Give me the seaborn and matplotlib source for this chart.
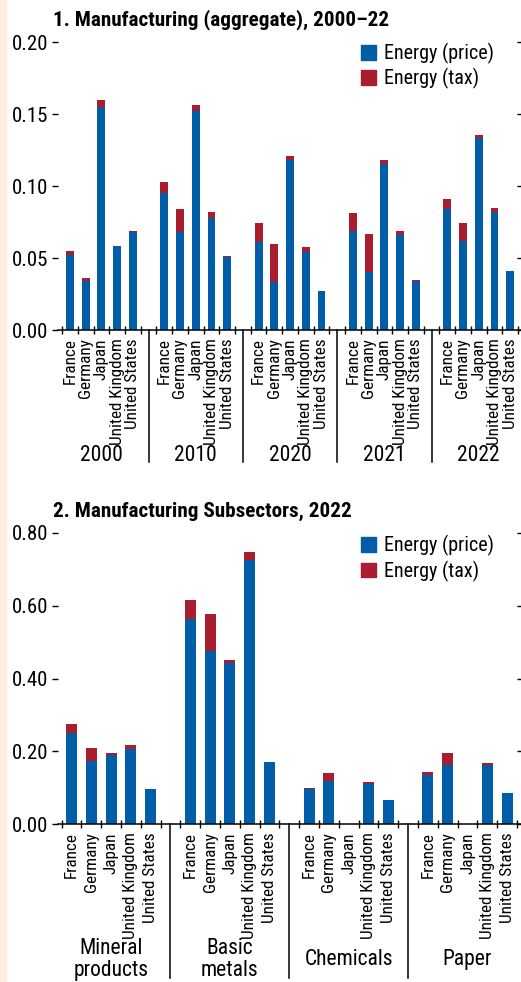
import pandas as pd
import matplotlib.pyplot as plt
import seaborn as sns
from matplotlib.patches import Patch, Rectangle

plt.rcParams['font.family'] = ['Roboto Condensed', 'DejaVu Sans']

BLUE = "#005DA8"
RED = "#A81E2E"

# data
countries = ["France", "Germany", "Japan", "United Kingdom", "United States"]

years = ["2000", "2010", "2020", "2021", "2022"]
agg_price = [[0.052, 0.034, 0.155, 0.058, 0.068],
             [0.095, 0.068, 0.152, 0.078, 0.051],
             [0.061, 0.033, 0.118, 0.054, 0.027],
             [0.069, 0.040, 0.115, 0.066, 0.034],
             [0.084, 0.062, 0.133, 0.082, 0.041]]
agg_tax = [[0.003, 0.002, 0.005, 0.0006, 0.001],
           [0.008, 0.016, 0.004, 0.004, 0.0005],
           [0.013, 0.027, 0.003, 0.0035, 0.0003],
           [0.012, 0.027, 0.003, 0.003, 0.0005],
           [0.007, 0.012, 0.0025, 0.0026, 0.0003]]

sectors = ["Mineral\nproducts", "Basic\nmetals", "Chemicals", "Paper"]
sub_price = [[0.250, 0.174, 0.190, 0.207, 0.097],
             [0.564, 0.476, 0.443, 0.725, 0.171],
             [0.095, 0.119, 0.0, 0.111, 0.066],
             [0.135, 0.162, 0.0, 0.162, 0.086]]
sub_tax = [[0.024, 0.036, 0.004, 0.011, 0.0],
           [0.053, 0.101, 0.008, 0.024, 0.0],
           [0.005, 0.022, 0.0, 0.005, 0.0],
           [0.009, 0.034, 0.0, 0.007, 0.0]]


def make_df(groups, price, tax):
    rows = []
    for g in range(len(groups)):
        for k, c in enumerate(countries):
            rows.append({"pos": g * 6 + k, "country": c,
                         "price": price[g][k], "total": price[g][k] + tax[g][k]})
    return pd.DataFrame(rows)


def panel(ax, groups, price, tax, title, ymax, yticks, xlim, width, sep_len, lab_y, leg_y):
    df = make_df(groups, price, tax)
    # red = total, blue price drawn over it -> stacked look
    sns.barplot(data=df, x="pos", y="total", native_scale=True, color=RED,
                width=width, saturation=1, errorbar=None, ax=ax)
    sns.barplot(data=df, x="pos", y="price", native_scale=True, color=BLUE,
                width=width, saturation=1, errorbar=None, ax=ax)
    ax.set_xlim(*xlim)
    ax.set_ylim(0, ymax)
    ax.set_xlabel("")
    ax.set_ylabel("")
    for s in ["left", "right", "top"]:
        ax.spines[s].set_visible(False)
    ax.spines["bottom"].set_linewidth(1.1)

    ax.set_yticks(yticks)
    ax.set_yticklabels([f"{v:.2f}" for v in yticks], fontsize=15)
    ax.tick_params(axis="y", direction="out", length=4, width=1, pad=3)

    ax.set_xticks(df["pos"])
    ax.set_xticklabels(df["country"], rotation=90, fontsize=12.3, va="top")
    ax.tick_params(axis="x", which="major", length=0, pad=6)
    n = len(groups) * 6 - 1
    ax.set_xticks([i - 0.5 for i in range(n + 1)], minor=True)
    ax.tick_params(axis="x", which="minor", direction="inout", length=6, width=1)

    # right side ticks
    ax2 = ax.twinx()
    ax2.set_ylim(0, ymax)
    ax2.set_yticks(yticks)
    ax2.set_yticklabels([])
    ax2.tick_params(axis="y", direction="in", length=3, width=1)
    for s in ax2.spines.values():
        s.set_visible(False)

    trans = ax.get_xaxis_transform()
    for g in range(1, len(groups)):
        x = g * 6 - 1
        ax.plot([x, x], [0, -sep_len], color="black", lw=1.1,
                transform=trans, clip_on=False)
    for g, name in enumerate(groups):
        ax.text(g * 6 + 2, lab_y, name, transform=trans, ha="center", va="center",
                fontsize=15.5, linespacing=1.1)

    ax.legend(handles=[Patch(color=BLUE, label="Energy (price)"),
                       Patch(color=RED, label="Energy (tax)")],
              loc="upper right", bbox_to_anchor=(0.96, leg_y), frameon=False,
              fontsize=14.5, handlelength=0.75, handleheight=0.75,
              handletextpad=0.4, labelspacing=0.22, borderaxespad=0)
    ax.text(-0.01, 1.04, title, transform=ax.transAxes, fontsize=15.2,
            fontweight="bold", ha="left", va="bottom")


fig = plt.figure(figsize=(5.21, 9.82), dpi=100)
fig.patches.append(Rectangle((0, 0), 6 / 521, 1, transform=fig.transFigure,
                             color="#FDEEE0", zorder=0))

ax1 = fig.add_axes([58 / 521, 1 - 330 / 982, 463 / 521, 288 / 982])
panel(ax1, years, agg_price, agg_tax, "1. Manufacturing (aggregate), 2000–22",
      0.20, [0.0, 0.05, 0.10, 0.15, 0.20], (-0.76, 28.69), 0.5, 0.458, -0.435, 1.025)

ax3 = fig.add_axes([58 / 521, 1 - 824 / 982, 463 / 521, 291 / 982])
panel(ax3, sectors, sub_price, sub_tax, "2. Manufacturing Subsectors, 2022",
      0.80, [0.0, 0.2, 0.4, 0.6, 0.8], (-0.68, 22.70), 0.55, 0.53, -0.465, 1.02)

fig.savefig("out.png", dpi=100)
